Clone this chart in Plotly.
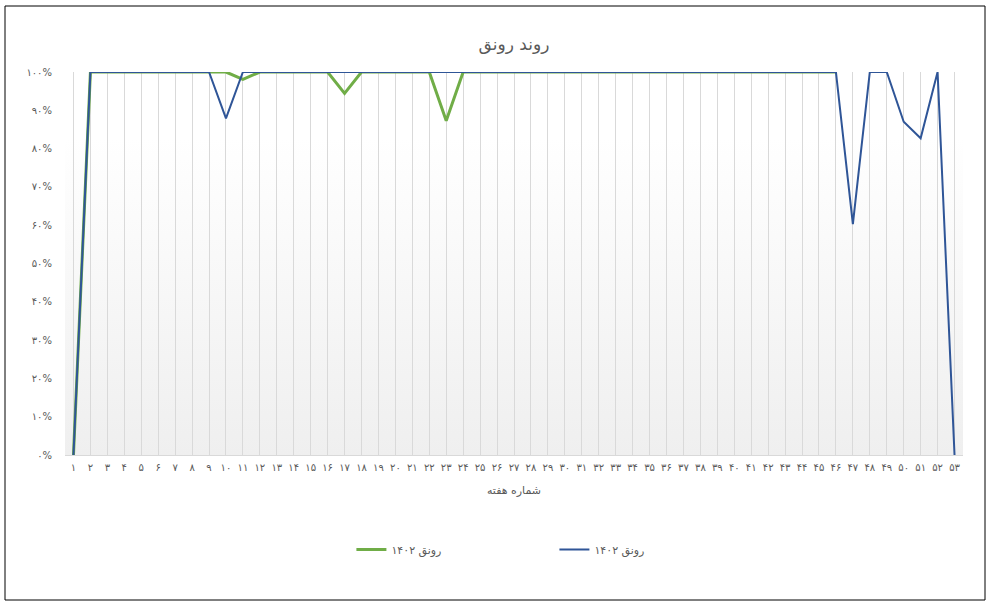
import base64
import plotly.graph_objects as go

# week numbers and the two series (share of weeks, 0..1)
weeks = list(range(1, 54))

green_1402 = [0.0] + [1.0] * 8 + [1.0, 0.981] + [1.0] * 5 + [0.944] + [1.0] * 5 + [0.873] + [1.0] * 23 + [None] * 7
blue_1402 = [0.0] + [1.0] * 8 + [0.879] + [1.0] * 36 + [0.603, 1.0, 1.0, 0.870, 0.827, 1.0, 0.0]

y_ticks = [i / 10 for i in range(11)]

fa_digits = str.maketrans("0123456789", "۰۱۲۳۴۵۶۷۸۹")


def fa(s):
    return str(s).translate(fa_digits)


week_labels = [fa(w) for w in weeks]
y_labels = [fa(int(round(v * 100))) + "%" for v in y_ticks]

FONT = "DejaVu Sans"
GREY = "#595959"

fig = go.Figure()
fig.add_trace(go.Scatter(x=weeks, y=green_1402, mode="lines", name="رونق ۱۴۰۲",
                         line=dict(color="#70ad47", width=3)))
fig.add_trace(go.Scatter(x=weeks, y=blue_1402, mode="lines", name="رونق ۱۴۰۲",
                         line=dict(color="#2f5597", width=2)))

# soft vertical gradient behind the plot area
svg = ('<svg xmlns="http://www.w3.org/2000/svg" width="10" height="100" preserveAspectRatio="none">'
       '<defs><linearGradient id="g" x1="0" y1="0" x2="0" y2="1">'
       '<stop offset="0" stop-color="#ffffff"/><stop offset="1" stop-color="#efefef"/>'
       '</linearGradient></defs><rect width="10" height="100" fill="url(#g)"/></svg>')
src = "data:image/svg+xml;base64," + base64.b64encode(svg.encode()).decode()
fig.add_layout_image(dict(source=src, xref="paper", yref="paper", x=0, y=0.83,
                          sizex=1, sizey=0.83, sizing="stretch", xanchor="left",
                          yanchor="top", layer="below"))

# outer chart border
fig.add_shape(type="rect", xref="paper", yref="paper", x0=-0.0668, x1=1.0245,
              y0=-0.3786, y1=1.1723, line=dict(color="black", width=1))

fig.update_layout(
    width=990,
    height=606,
    margin=dict(l=65, r=27, t=72, b=151),
    paper_bgcolor="white",
    plot_bgcolor="rgba(0,0,0,0)",
    font=dict(family=FONT, color=GREY, size=10),
    title=dict(text="روند رونق", x=0.5, xref="paper", xanchor="center", y=0.927,
               yanchor="middle", font=dict(size=17, color=GREY)),
    showlegend=True,
    legend=dict(orientation="h", x=0.545, xanchor="center", y=-0.247, yanchor="middle",
                font=dict(size=11, color=GREY), entrywidth=158, traceorder="normal"),
)

fig.update_xaxes(
    range=[0.5, 53.5],
    tickvals=weeks,
    ticktext=week_labels,
    tickangle=0,
    showgrid=True,
    gridcolor="#d9d9d9",
    gridwidth=1,
    showline=True,
    linecolor="#d9d9d9",
    zeroline=False,
    ticklabelstandoff=3,
    tickfont=dict(size=10, color=GREY),
    title=dict(text="شماره هفته", standoff=14, font=dict(size=11, color=GREY)),
)

fig.update_yaxes(
    range=[0, 1],
    tickvals=y_ticks,
    ticktext=y_labels,
    showgrid=False,
    zeroline=False,
    showline=False,
    ticklabelstandoff=12,
    tickfont=dict(size=10, color=GREY),
)

fig.write_html("out.html", config={"displayModeBar": False},
               post_script="document.body.style.margin = '0';")
